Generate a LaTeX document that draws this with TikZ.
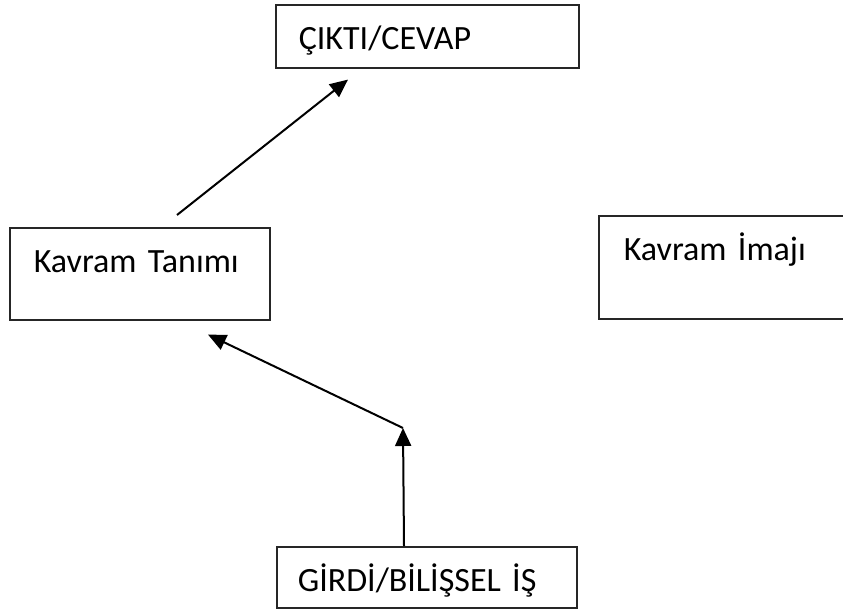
\documentclass[tikz,border=0pt]{standalone}
\usepackage{fontspec}
\setmainfont{Carlito}
\usepackage{tikz}
\usetikzlibrary{arrows.meta}
\tikzset{
  box/.style={draw=black!85,line width=1.6pt,anchor=north west,inner xsep=23pt,
    inner ysep=0pt,text height=45pt,align=left,font=\fontsize{34pt}{40pt}\selectfont},
  arrowedge/.style={draw=black,line width=2pt,-{Triangle[length=18pt,width=16pt]}},
}

\begin{document}
\begin{tikzpicture}[x=1pt,y=-1pt]
  \useasboundingbox (0,0) rectangle (843,609);
  \clip (0,0) rectangle (843,609);

  % Boxes, placed at their top-left corners.
  \node[box,text width=257pt,text depth=18pt] (cevap) at (275,4) {ÇIKTI/CEVAP};
  \node[box,text width=212pt,text depth=47pt,inner xsep=24pt] (tanim) at (9,227) {Kavram Tanımı};
  \node[box,text width=254pt,text depth=58pt,inner xsep=25pt] (imaj) at (598,215) {Kavram İmajı};
  \node[box,text width=258pt,text depth=16pt,inner xsep=21pt] (girdi) at (276,546) {GİRDİ/BİLİŞSEL İŞ};

  % Connectors.
  \coordinate (bend) at (403,428);
  \draw[arrowedge] ([xshift=168pt,yshift=12pt]tanim.north west)
    -- ([xshift=73pt,yshift=-11pt]cevap.south west);
  \draw[arrowedge] ([xshift=128pt]girdi.north west) -- (bend);
  \draw[arrowedge] (bend) -- ([xshift=199pt,yshift=-14pt]tanim.south west);
\end{tikzpicture}
\end{document}
